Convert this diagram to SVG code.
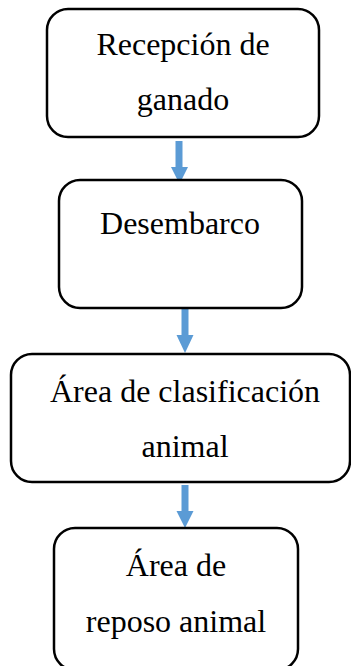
<svg xmlns="http://www.w3.org/2000/svg" width="351" height="666" viewBox="0 0 351 666">
<style>
.box{fill:#fff;stroke:#000;stroke-width:2.5}
.t{font-family:"Liberation Serif","Times New Roman",serif;font-size:32px;fill:#000;text-anchor:middle}
.shaft{stroke:#5b9bd5;stroke-width:7;fill:none}
.head{fill:#5b9bd5}
</style>
<rect width="351" height="666" fill="#fff"/>
<g id="connectors">
<line class="shaft" x1="179" y1="141" x2="179" y2="168"/>
<polygon class="head" points="171,167 188,167 179.5,184"/>
<line class="shaft" x1="185" y1="309" x2="185" y2="336"/>
<polygon class="head" points="176.5,335 193.5,335 185,353"/>
<line class="shaft" x1="185" y1="485" x2="185" y2="512"/>
<polygon class="head" points="176.5,511 193.5,511 185,528"/>
</g>
<g id="n1">
<rect class="box" x="47" y="9" width="272" height="128" rx="21"/>
<text class="t" x="183" y="55">Recepción de</text>
<text class="t" x="183" y="110">ganado</text>
</g>
<g id="n2">
<rect class="box" x="59" y="180" width="243" height="128" rx="21"/>
<text class="t" x="180" y="234">Desembarco</text>
</g>
<g id="n3">
<rect class="box" x="11" y="354" width="339" height="128" rx="21"/>
<text class="t" x="185" y="402">Área de clasificación</text>
<text class="t" x="185" y="457">animal</text>
</g>
<g id="n4">
<rect class="box" x="54" y="528" width="244" height="142" rx="21"/>
<text class="t" x="176" y="576">Área de</text>
<text class="t" x="176" y="632">reposo animal</text>
</g>
</svg>
